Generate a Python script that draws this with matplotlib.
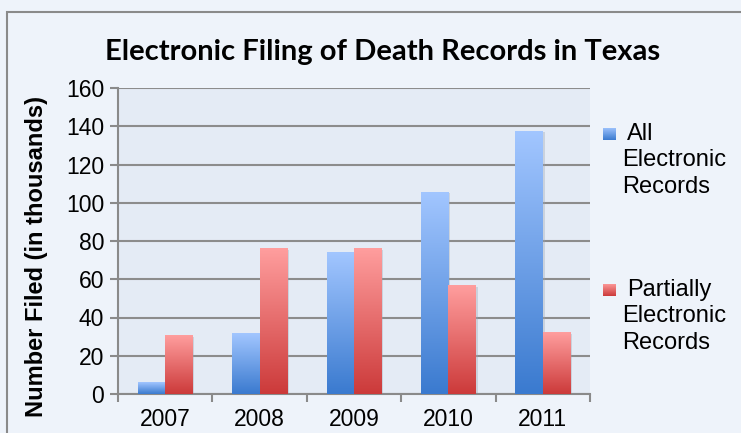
import numpy as np
import matplotlib.pyplot as plt
from matplotlib.patches import Rectangle
from matplotlib.colors import LinearSegmentedColormap

years = ['2007', '2008', '2009', '2010', '2011']
all_electronic = [6, 31.5, 74, 105.5, 137.5]
partial_electronic = [30.5, 76, 76, 56.5, 32]
legend_labels = [['All', 'Electronic', 'Records'],
                 ['Partially', 'Electronic', 'Records']]

blue_cm = LinearSegmentedColormap.from_list('blue', ['#3a7acf', '#a2c6ff'])
red_cm = LinearSegmentedColormap.from_list('red', ['#cc3a3a', '#ff9e9e'])

W, H = 741, 433
fig = plt.figure(figsize=(W / 100, H / 100), dpi=100)
fig.patch.set_facecolor('#eef3fa')

# outer chart border
fig.patches.append(Rectangle((7 / W, -0.1), 1.2, 1 - 12 / H + 0.1, transform=fig.transFigure,
                             fill=False, edgecolor='#8a8a8a', lw=1.5))

ax = fig.add_axes([118 / W, 1 - 394 / H, (590 - 118) / W, (394 - 88) / H])
ax.set_facecolor('#e4ebf5')

grad = np.linspace(0, 1, 256).reshape(-1, 1)
x = np.arange(len(years))
bw = 0.29


def gradient_bars(xs, heights, cmap):
    bars = ax.bar(xs, heights, bw, color='none', edgecolor='none', zorder=3)
    for b in bars:
        x0, w, h = b.get_x(), b.get_width(), b.get_height()
        # soft shadow on the right side
        ax.add_patch(Rectangle((x0 + 0.02, 0), w, h - 0.6, facecolor='#9aa4b2',
                               alpha=0.35, edgecolor='none', zorder=2))
        ax.imshow(grad, extent=(x0, x0 + w, 0, h), origin='lower', aspect='auto',
                  cmap=cmap, zorder=3)


gradient_bars(x - bw / 2, all_electronic, blue_cm)
gradient_bars(x + bw / 2, partial_electronic, red_cm)

ax.set_xlim(-0.5, len(years) - 0.5)
ax.set_ylim(0, 160)
ax.set_yticks(range(0, 161, 20))
ax.set_xticks(x)
ax.set_xticklabels(years, fontsize=16.5, fontfamily='Liberation Sans')
ax.set_xticks(np.arange(-0.5, len(years)), minor=True)
ax.tick_params(axis='x', which='major', length=0, pad=10)
ax.tick_params(axis='x', which='minor', length=6, color='#8a8a8a', width=1.5)
ax.tick_params(axis='y', length=6, color='#8a8a8a', width=1.5, labelsize=16.5, pad=4)
for lab in ax.get_yticklabels():
    lab.set_fontfamily('Liberation Sans')
ax.grid(axis='y', color='#8c8c8c', lw=1.5, zorder=1)
ax.set_axisbelow(True)
for s in ['top', 'right']:
    ax.spines[s].set_visible(False)
for s in ['left', 'bottom']:
    ax.spines[s].set_color('#8a8a8a')
    ax.spines[s].set_linewidth(1.5)

ax.set_ylabel('Number Filed (in thousands)', fontsize=17, fontweight='bold',
              fontfamily='Liberation Sans')
ax.yaxis.set_label_coords(-0.148, 0.45)

fig.text(383 / W, 1 - 52 / H, 'Electronic Filing of Death Records in Texas',
         ha='center', va='center', fontsize=21, fontweight='bold', fontfamily='Lato')

# legend: gradient swatches and wrapped labels
for (sy, cmap), lines in zip([(134, blue_cm), (290, red_cm)], legend_labels):
    sw = fig.add_axes([603 / W, 1 - (sy + 6.5) / H, 13 / W, 13 / H])
    sw.imshow(grad, origin='lower', aspect='auto', cmap=cmap)
    sw.axis('off')
    for i, line in enumerate(lines):
        xpos = 627 if i == 0 else 622
        fig.text(xpos / W, 1 - (sy + 26.5 * i) / H, line, ha='left', va='center',
                 fontsize=17, fontfamily='Liberation Sans')

fig.savefig('out.png', dpi=100, facecolor=fig.get_facecolor())
